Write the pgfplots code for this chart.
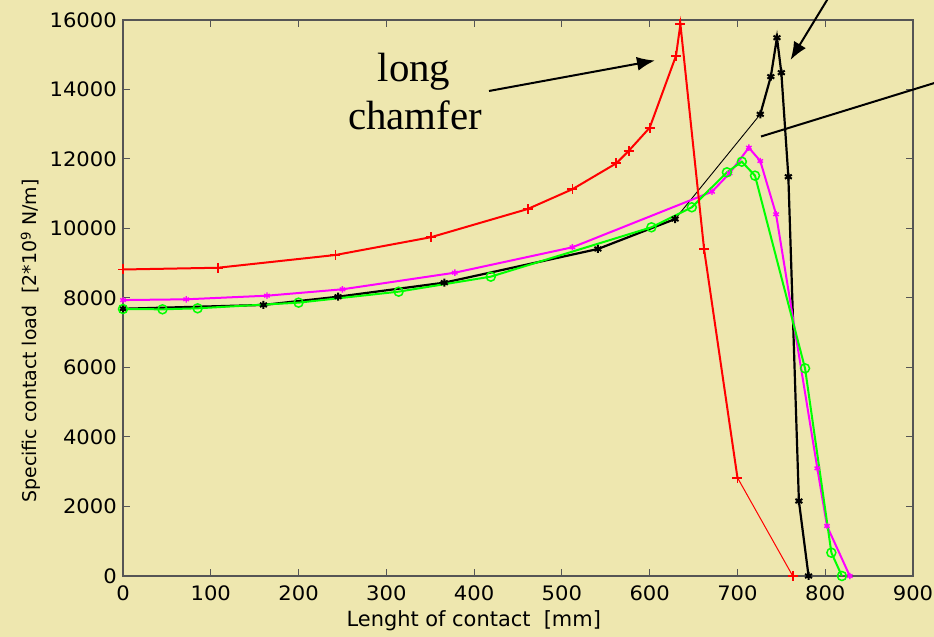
\documentclass[border=0pt]{standalone}
\usepackage{pgfplots}
\pgfplotsset{compat=1.18}
\usepackage{fontspec}
\setmainfont{DejaVu Sans}
\newfontfamily\serifann{Liberation Serif}
\newfontfamily\tickfont[FakeStretch=1.06]{DejaVu Sans}
\usetikzlibrary{arrows.meta}
\definecolor{bg}{RGB}{238,231,175}
\definecolor{axgray}{RGB}{85,85,85}
\definecolor{mag}{RGB}{255,0,255}
\definecolor{grn}{RGB}{0,255,0}
\definecolor{rd}{RGB}{255,0,0}
\begin{document}
\begin{tikzpicture}[x=1bp,y=1bp]
\fill[bg] (0,0) rectangle (934,637);
\begin{axis}[
  at={(123bp,61bp)}, anchor=south west,
  scale only axis, width=790bp, height=556bp,
  xmin=0, xmax=900, ymin=0, ymax=16000,
  xtick={0,100,...,900}, ytick={0,2000,...,16000},
  scaled y ticks=false, scaled x ticks=false,
  axis background/.style={fill=bg},
  axis line style={axgray, line width=1.2bp},
  major tick style={axgray, line width=1bp},
  major tick length=7bp, tick align=inside,
  /pgf/number format/assume math mode=true,
  /pgf/number format/1000 sep={},
  ticklabel style={font=\tickfont\fontsize{20}{21}\selectfont, inner sep=0pt, text=black},
  yticklabel style={xshift=-6bp},
  xticklabel style={yshift=-10bp},
  xlabel={Lenght of contact\ \ [mm]},
  ylabel={Specific contact load\ \ [2*10\textsuperscript{9} N/m]},
  xlabel style={font=\fontsize{21}{23}\selectfont, at={(axis description cs:0.444,-0.0917)}, anchor=base},
  ylabel style={font=\fontsize{19}{21}\selectfont, at={(axis description cs:-0.1089,0.4227)}, anchor=base},
  clip=false,
]
% black
\addplot[black, line width=2.2bp, mark=asterisk, mark size=4bp, mark options={line width=2bp}]
  coordinates {(0,7690)(160,7800)(245,8037)(366,8441)(541,9410)(629,10273)};
\addplot[black, line width=0.9bp, no marks]
  coordinates {(629,10273)(726,13286)};
\addplot[black, line width=2.2bp, mark=asterisk, mark size=4bp, mark options={line width=2bp}]
  coordinates {(726,13286)(738,14370)(745,15490)(750,14484)(758,11490)(770,2158)(781,0)};
% magenta
\addplot[mag, line width=2bp, mark=asterisk, mark size=3.2bp, mark options={line width=1.4bp}]
  coordinates {(0,7940)(72,7962)(164,8066)(250,8250)(378,8728)(512,9459)(671,11059)(691,11588)(713,12325)(726,11942)(744,10409)(791,3099)(802,1439)(828,0)};
% green
\addplot[grn, line width=2bp, mark=o, mark size=4.5bp, mark options={line width=1.5bp}]
  coordinates {(0,7683)(45,7674)(85,7703)(200,7866)(314,8182)(419,8614)(602,10034)(648,10610)(688,11617)(705,11922)(720,11520)(777,5976)(807,671)(819,0)};
% red
\addplot[rd, line width=2bp, mark=+, mark size=5bp, mark options={line width=1.8bp}]
  coordinates {(0,8820)(108,8870)(242,9237)(351,9750)(461,10560)(512,11130)(562,11876)(576,12230)(600,12900)(630,14970)(635,15880)(662,9400)(700,2830)};
\addplot[rd, line width=1bp, mark=+, mark size=5bp, mark options={line width=1.8bp}, mark indices={2}]
  coordinates {(700,2830)(763,0)};
\end{axis}
% annotations
\node[anchor=base, font=\serifann\fontsize{41}{45}\selectfont, inner sep=0pt] at (414,555) {long};
\node[anchor=base, font=\serifann\fontsize{41}{45}\selectfont, inner sep=0pt] at (415,507) {chamfer};
\draw[line width=2bp, -{Latex[length=18bp,width=14bp]}] (489,546) -- (655,576.5);
\draw[line width=2bp, -{Latex[length=18bp,width=14bp]}] (835,650) -- (790.5,577);
\draw[line width=2bp] (761,500.5) -- (950,558.8);
\pgfresetboundingbox
\useasboundingbox (0,0) rectangle (934,637);
\end{tikzpicture}
\end{document}
